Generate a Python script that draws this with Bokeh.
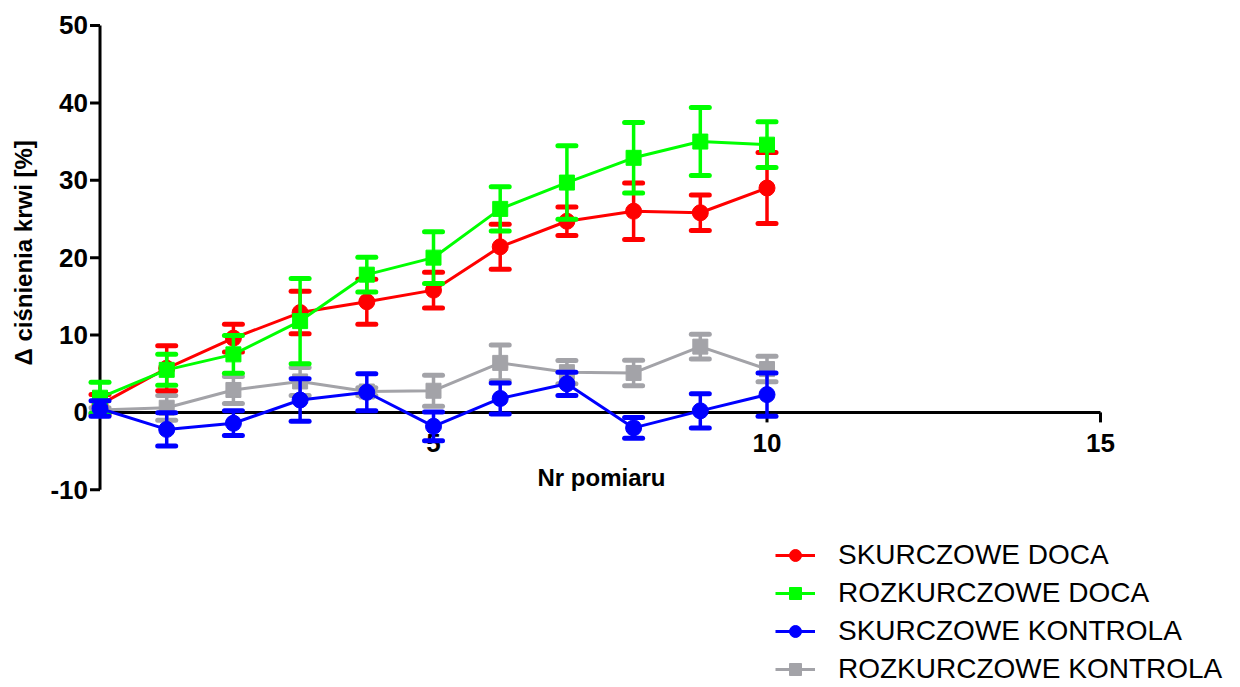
import math
from bokeh.plotting import figure
from bokeh.models import Range1d, Legend, LegendItem, Label, ColumnDataSource
from bokeh.core.properties import value
from bokeh.embed import file_html
from bokeh.resources import INLINE

# ---- data ----
x_points = [0, 1, 2, 3, 4, 5, 6, 7, 8, 9, 10]

skurcz_doca = [1.0, 5.7, 9.6, 12.9, 14.3, 15.8, 21.4, 24.7, 26.0, 25.8, 29.0]
skurcz_doca_err = [1.3, 2.9, 1.8, 2.75, 2.9, 2.3, 2.9, 1.85, 3.65, 2.3, 4.6]

rozkurcz_doca = [1.9, 5.5, 7.5, 11.8, 17.8, 20.0, 26.3, 29.7, 32.9, 35.0, 34.6]
rozkurcz_doca_err = [2.0, 2.0, 2.45, 5.5, 2.25, 3.35, 2.85, 4.75, 4.55, 4.4, 2.95]

skurcz_kontrola = [0.5, -2.2, -1.4, 1.6, 2.6, -1.8, 1.8, 3.7, -2.0, 0.2, 2.3]
skurcz_kontrola_err = [1.0, 2.15, 1.6, 2.75, 2.4, 1.85, 2.0, 1.5, 1.35, 2.2, 2.8]

rozkurcz_kontrola = [0.3, 0.6, 2.9, 4.0, 2.7, 2.8, 6.4, 5.2, 5.1, 8.5, 5.6]
rozkurcz_kontrola_err = [0.3, 1.6, 1.75, 1.8, 0.5, 2.0, 2.3, 1.5, 1.65, 1.6, 1.65]

x_ticks = [0, 5, 10, 15]
x_tick_labels = ["", "5", "10", "15"]
y_ticks = [-10, 0, 10, 20, 30, 40, 50]
y_tick_labels = ["-10", "0", "10", "20", "30", "40", "50"]

x_title = "Nr pomiaru"
y_title = "\u0394 ci\u015bnienia  krwi [%]"

series = [
    # name, means, errs, color, marker
    ("ROZKURCZOWE KONTROLA", rozkurcz_kontrola, rozkurcz_kontrola_err, "#A3A3A8", "square"),
    ("SKURCZOWE DOCA", skurcz_doca, skurcz_doca_err, "#FF0000", "circle"),
    ("ROZKURCZOWE DOCA", rozkurcz_doca, rozkurcz_doca_err, "#00FF00", "square"),
    ("SKURCZOWE KONTROLA", skurcz_kontrola, skurcz_kontrola_err, "#0000FF", "circle"),
]
legend_order = ["SKURCZOWE DOCA", "ROZKURCZOWE DOCA", "SKURCZOWE KONTROLA", "ROZKURCZOWE KONTROLA"]

FONT_NAME = "Liberation Sans"
FONT = value(FONT_NAME)

p = figure(width=1240, height=687,
           x_range=Range1d(-1.492, 17.099), y_range=Range1d(-35.55, 53.23),
           x_axis_location=None, y_axis_location=None,
           output_backend="svg", toolbar_location=None, min_border=0)
p.outline_line_color = None
p.grid.visible = False
p.background_fill_color = "white"
p.border_fill_color = "white"

# ---- axes drawn by hand (axis crosses at y=0) ----
p.line([min(x_ticks), max(x_ticks)], [0, 0], line_color="black", line_width=3)
p.line([0, 0], [min(y_ticks), max(y_ticks)], line_color="black", line_width=3)
p.ray(x=[0] * len(y_ticks), y=y_ticks, length=10, length_units="screen",
      angle=math.pi, line_color="black", line_width=3)
p.ray(x=x_ticks[1:], y=[0] * (len(x_ticks) - 1), length=10, length_units="screen",
      angle=-math.pi / 2, line_color="black", line_width=3)

p.text(x=[0] * len(y_ticks), y=y_ticks, text=y_tick_labels, x_offset=-12,
       text_align="right", text_baseline="middle", text_font=FONT,
       text_font_style="bold", text_font_size="26px", text_color="black")
p.text(x=x_ticks[1:], y=[0] * (len(x_ticks) - 1), text=x_tick_labels[1:], y_offset=31,
       text_align="center", text_baseline="middle", text_font=FONT,
       text_font_style="bold", text_font_size="26px", text_color="black")

p.add_layout(Label(x=601, y=210, x_units="screen", y_units="screen", text=x_title,
                   text_align="center", text_baseline="middle", text_font=FONT_NAME,
                   text_font_style="bold", text_font_size="24px", text_color="black"))
p.add_layout(Label(x=23, y=438, x_units="screen", y_units="screen", text=y_title,
                   angle=math.pi / 2, text_align="center", text_baseline="middle",
                   text_font=FONT_NAME, text_font_style="bold", text_font_size="24px",
                   text_color="black"))

# ---- series ----
items = {}
for name, means, errs, color, marker in series:
    lo = [m - e for m, e in zip(means, errs)]
    hi = [m + e for m, e in zip(means, errs)]
    src = ColumnDataSource(dict(x=x_points, y=means, lo=lo, hi=hi))
    p.segment(x0="x", y0="lo", x1="x", y1="hi", source=src, line_color=color, line_width=3.5)
    p.scatter(x="x", y="lo", source=src, marker="dash", size=18, line_color=color,
              line_width=5, line_cap="round")
    p.scatter(x="x", y="hi", source=src, marker="dash", size=18, line_color=color,
              line_width=5, line_cap="round")
    lr = p.line(x="x", y="y", source=src, line_color=color, line_width=3)
    sr = p.scatter(x="x", y="y", source=src, marker=marker,
                   size=16 if marker == "circle" else 15,
                   fill_color=color, line_color=color, line_width=1)
    items[name] = LegendItem(label=name, renderers=[lr, sr])

legend = Legend(items=[items[n] for n in legend_order], location=(775, 2),
                orientation="vertical", padding=0, margin=0, spacing=6,
                glyph_width=40, glyph_height=30, label_height=30, label_standoff=23,
                label_text_font=FONT_NAME, label_text_font_size="28px",
                label_text_color="black", border_line_color=None,
                background_fill_alpha=0)
p.add_layout(legend, "center")

open("out.html", "w").write(file_html(p, INLINE))
